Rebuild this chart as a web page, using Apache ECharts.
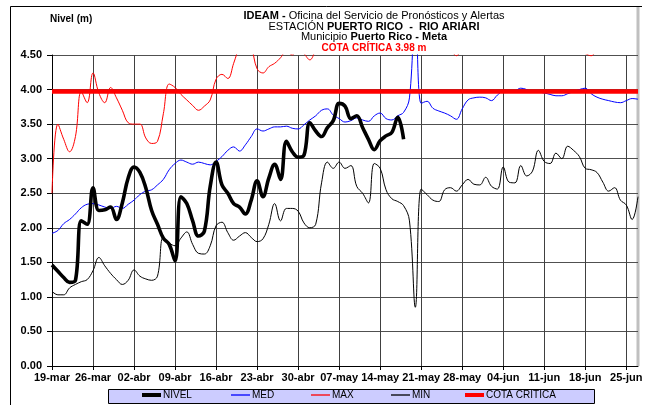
<!DOCTYPE html>
<html><head><meta charset="utf-8">
<script src="https://cdn.jsdelivr.net/npm/echarts@6/dist/echarts.min.js"></script>
<style>html,body{margin:0;padding:0;background:#fff}#c{width:655px;height:405px}</style>
</head><body><div id="c"></div>
<script>
// ---- data ----
const MONTHS = ['mar','abr','may','jun'];
const MONTH_DAYS = [31,30,31,30];
const START_DAY = 19;      // 19-mar
const N_DAYS = 101;        // 19-mar .. 27-jun
const COTA = 3.98;

const NIVEL = [1.46,1.37,1.28,1.21,1.24,2.10,2.05,2.58,2.25,2.26,
  2.30,2.12,2.36,2.72,2.88,2.80,2.58,2.25,2.05,1.85,
  1.76,1.52,2.45,2.35,2.10,1.88,1.95,2.60,2.95,2.62,
  2.50,2.35,2.30,2.20,2.40,2.68,2.45,2.72,2.92,2.70,
  3.25,3.10,3.02,3.05,3.52,3.40,3.32,3.45,3.55,3.80,
  3.76,3.58,3.62,3.45,3.28,3.13,3.26,3.33,3.38,3.60,3.28];

const MED = [1.92,1.96,2.06,2.12,2.20,2.29,2.34,2.35,2.33,2.30,
  2.28,2.31,2.28,2.34,2.40,2.48,2.53,2.55,2.62,2.70,
  2.84,2.93,2.98,2.95,2.92,2.95,2.93,2.91,2.96,3.03,
  3.12,3.17,3.11,3.20,3.32,3.43,3.40,3.43,3.46,3.46,
  3.47,3.44,3.43,3.49,3.56,3.62,3.70,3.72,3.63,3.58,
  3.53,3.55,3.59,3.56,3.54,3.62,3.66,3.58,3.56,3.62,
  3.67,3.88,5.20,3.80,3.83,3.73,3.69,3.66,3.62,3.57,
  3.72,3.85,3.88,3.89,3.88,3.84,3.92,3.97,3.97,3.98,
  4.02,4.00,3.96,3.96,3.95,3.93,3.91,3.91,3.94,3.97,
  4.00,4.02,3.94,3.89,3.86,3.84,3.82,3.81,3.84,3.87,3.86];

const MAX = [2.50,3.50,3.28,3.10,3.32,3.97,3.81,4.24,3.95,3.81,
  4.03,3.88,3.70,3.52,3.50,3.50,3.30,3.22,3.25,3.65,
  4.08,4.03,3.93,3.85,3.77,3.70,3.76,3.85,4.15,4.22,
  4.16,4.38,4.62,4.75,4.62,4.30,4.24,4.33,4.38,4.46,
  4.56,4.50,4.60,4.52,4.43,4.58,4.75,4.85,4.90,4.80,
  4.85,4.95,4.90,4.80,4.85,4.90,4.95,4.85,4.80,4.90,
  5.00,5.10,5.20,4.90,4.80,4.75,4.70,4.65,4.58,4.49,
  4.60,4.75,4.85,4.90,4.80,4.75,4.85,4.90,4.95,4.85,
  4.80,4.85,4.90,4.85,4.80,4.75,4.70,4.75,4.70,4.62,
  4.56,4.52,4.49,4.58,4.70,4.80,4.85,4.80,4.75,4.80,4.85];

const MIN = [1.08,1.03,1.03,1.13,1.18,1.22,1.25,1.38,1.57,1.45,
  1.34,1.25,1.18,1.24,1.39,1.30,1.26,1.24,1.30,1.86,
  1.78,1.74,1.85,1.94,1.76,1.63,1.62,1.74,2.03,2.08,
  1.93,1.82,1.88,1.93,1.86,1.80,1.84,2.05,2.35,2.10,
  2.28,2.28,2.24,2.07,2.00,2.05,2.65,2.95,2.86,2.95,
  2.86,2.90,2.60,2.50,2.36,2.93,2.86,2.55,2.42,2.38,
  2.32,2.10,0.85,2.56,2.48,2.40,2.38,2.55,2.58,2.53,
  2.62,2.70,2.63,2.62,2.73,2.60,2.56,2.88,2.66,2.65,
  2.90,2.75,2.82,3.12,2.96,2.93,3.08,3.00,3.18,3.12,
  3.03,2.86,2.84,2.80,2.66,2.53,2.58,2.40,2.33,2.12,2.45];

const LEGEND_NAMES = ['NIVEL','MED','MAX','MIN','COTA CRITICA'];

// categories (dates)
const CATEGORIES = [];
{
  let m = 0, d = START_DAY;
  for (let i = 0; i < N_DAYS; i++) {
    CATEGORIES.push((d < 10 ? '0' + d : '' + d) + '-' + MONTHS[m]);
    d++;
    if (d > MONTH_DAYS[m]) { d = 1; m++; }
  }
}

// ---- chart ----
const FONT = 'Liberation Sans, Arial, sans-serif';
const chart = echarts.init(document.getElementById('c'), null, {renderer: 'canvas'});

const legendLefts = [142, 231, 311, 391, 465];
const legendThick = [4, 1.3, 1.3, 1.3, 4];
const legends = LEGEND_NAMES.map((n, i) => ({
  data: [n], left: legendLefts[i], top: 390, padding: 0, itemGap: 0,
  icon: 'rect', itemWidth: 19, itemHeight: legendThick[i],
  textStyle: {fontSize: 10, fontFamily: FONT, color: '#000', padding: [0, 0, 0, -3]}
}));

const R = {fontFamily: FONT, fontSize: 11, lineHeight: 10.7, color: '#000', fontWeight: 'normal'};
const option = {
  animation: false,
  backgroundColor: '#fff',
  title: {
    left: 374, top: 10.5, padding: 0, textAlign: 'center',
    text: '{b|IDEAM -}{n| Oficina del Servicio de Pronósticos y Alertas}\n' +
          '{n|ESTACIÓN }{b|PUERTO RICO  -  RIO ARIARI}\n' +
          '{n|Municipio }{b|Puerto Rico - Meta}\n' +
          '{r|COTA CRÍTICA ' + COTA.toFixed(2) + ' m}',
    textStyle: {
      fontFamily: FONT, fontSize: 11, lineHeight: 10.7, color: '#000', fontWeight: 'normal',
      rich: {
        n: Object.assign({}, R),
        b: Object.assign({}, R, {fontWeight: 'bold'}),
        r: Object.assign({}, R, {fontSize: 10, color: '#ff0000', fontWeight: 'bold'})
      }
    }
  },
  legend: legends,
  graphic: [
    {type: 'line', shape: {x1: 10.5, y1: 6.5, x2: 642, y2: 6.5}, style: {stroke: '#000', lineWidth: 1}, z: 0},
    {type: 'line', shape: {x1: 10.5, y1: 6.5, x2: 10.5, y2: 405}, style: {stroke: '#000', lineWidth: 1}, z: 0},
    {type: 'line', shape: {x1: 638, y1: 7, x2: 638, y2: 366}, style: {stroke: '#c0c0c0', lineWidth: 3}, z: 0},
    {type: 'rect', shape: {x: 108.5, y: 389.5, width: 486, height: 14}, style: {fill: '#ccccff', stroke: '#000', lineWidth: 1}, z: 0},
    {type: 'text', left: 50, top: 14, style: {text: 'Nivel (m)', font: 'bold 10px ' + FONT, fill: '#000'}}
  ],
  grid: {left: 52, right: 17, top: 55, bottom: 39, containLabel: false},
  xAxis: {
    type: 'category', data: CATEGORIES, boundaryGap: false,
    axisLine: {lineStyle: {color: '#000', width: 1}},
    axisTick: {interval: 6, length: 4, lineStyle: {color: '#000'}},
    axisLabel: {interval: 6, margin: 6, fontFamily: FONT, fontSize: 11, fontWeight: 'bold', color: '#000'},
    splitLine: {show: true, interval: 6, lineStyle: {color: '#404040', width: 1}}
  },
  yAxis: {
    type: 'value', min: 0, max: 4.5, interval: 0.5,
    axisLine: {show: true, lineStyle: {color: '#000', width: 1}},
    axisTick: {show: true, length: 5, lineStyle: {color: '#000'}},
    axisLabel: {margin: 10, fontFamily: FONT, fontSize: 11, fontWeight: 'bold', color: '#000',
      formatter: v => v.toFixed(2)},
    splitLine: {show: true, lineStyle: {color: '#505050', width: 1}}
  },
  series: [
    {name: 'MAX', type: 'line', data: MAX, smooth: 0.4, symbol: 'none', clip: true, z: 2,
      lineStyle: {color: '#ff0000', width: 1}, itemStyle: {color: '#ff0000'}},
    {name: 'MIN', type: 'line', data: MIN, smooth: 0.4, symbol: 'none', clip: true, z: 2,
      lineStyle: {color: '#000000', width: 1}, itemStyle: {color: '#000000'}},
    {name: 'MED', type: 'line', data: MED, smooth: 0.4, symbol: 'none', clip: true, z: 3,
      lineStyle: {color: '#0000ff', width: 1}, itemStyle: {color: '#0000ff'}},
    {name: 'COTA CRITICA', type: 'line', data: [], symbol: 'none', z: 4,
      lineStyle: {color: '#ff0000', width: 4.5}, itemStyle: {color: '#ff0000'},
      markLine: {silent: true, symbol: 'none', label: {show: false},
        lineStyle: {color: '#ff0000', width: 4.5, type: 'solid'},
        data: [{yAxis: COTA}]}},
    {name: 'NIVEL', type: 'line', data: NIVEL, smooth: 0.4, symbol: 'none', clip: true, z: 5,
      lineStyle: {color: '#000000', width: 3.6}, itemStyle: {color: '#000000'}}
  ]
};
chart.setOption(option);
</script>
</body></html>
